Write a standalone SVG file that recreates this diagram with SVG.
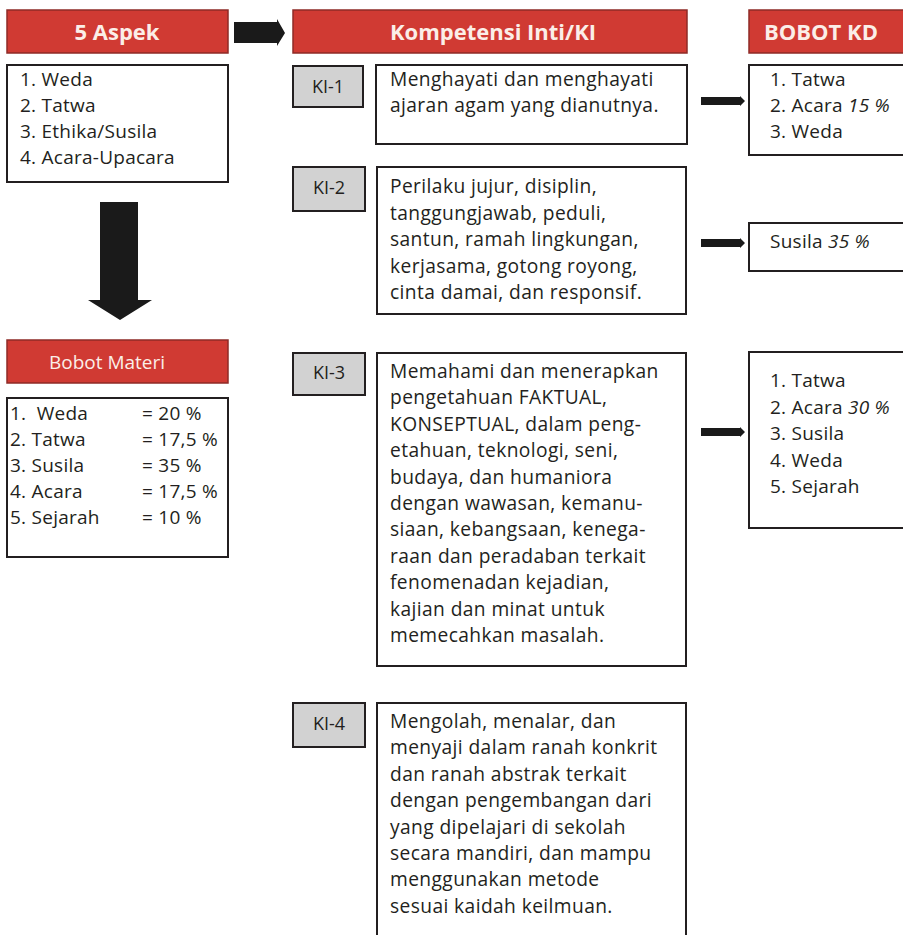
<svg xmlns="http://www.w3.org/2000/svg" width="903" height="935" viewBox="0 0 903 935">
<style>
.hdr{fill:#d03a33;stroke:#8e2b27;stroke-width:1.5}
.box{fill:#fff;stroke:#231f20;stroke-width:2}
.ki{fill:#d2d2d2;stroke:#231f20;stroke-width:2}
.t{font-family:"Open Sans","Noto Sans",sans-serif;font-size:19px;letter-spacing:0.25px;fill:#231f20}
.w{font-size:19.2px;letter-spacing:0.4px}
.h{font-family:"Open Sans","Noto Sans",sans-serif;font-size:22px;font-weight:bold;fill:#fbeee8}
.hm{font-family:"Open Sans","Noto Sans",sans-serif;font-size:19px;fill:#fbeee8}
.k{font-family:"Open Sans","Noto Sans",sans-serif;font-size:18px;fill:#231f20;text-anchor:middle}
.i{font-style:italic}
</style>
<rect width="903" height="935" fill="#fff"/>
<g id="aspek-header"><rect class="hdr" x="7" y="10" width="221" height="43"/><text class="h" x="117" y="39.5" text-anchor="middle">5 Aspek</text></g>
<g id="aspek-list"><rect class="box" x="7" y="65" width="221" height="117"/>
<text class="t" x="20" y="86">1. Weda</text><text class="t" x="20" y="112">2. Tatwa</text><text class="t" x="20" y="138">3. Ethika/Susila</text><text class="t" x="20" y="164">4. Acara-Upacara</text></g>
<g id="ki-header"><rect class="hdr" x="293" y="10" width="394" height="43"/><text class="h" x="493" y="39.5" text-anchor="middle">Kompetensi Inti/KI</text></g>
<g id="kd-header"><rect class="hdr" x="749" y="10" width="162" height="43"/><text class="h" x="764" y="39.5">BOBOT KD</text></g>
<g id="materi-header"><rect class="hdr" x="7" y="340" width="221" height="43"/><text class="hm" x="107" y="369" text-anchor="middle">Bobot Materi</text></g>
<g id="materi-list"><rect class="box" x="7" y="398" width="221" height="159"/>
<text class="t" x="10" y="420">1.&#160; Weda</text><text class="t" x="142" y="420">= 20 %</text>
<text class="t" x="10" y="446">2. Tatwa</text><text class="t" x="142" y="446">= 17,5 %</text>
<text class="t" x="10" y="472">3. Susila</text><text class="t" x="142" y="472">= 35 %</text>
<text class="t" x="10" y="498">4. Acara</text><text class="t" x="142" y="498">= 17,5 %</text>
<text class="t" x="10" y="524">5. Sejarah</text><text class="t" x="142" y="524">= 10 %</text></g>
<g id="ki1"><rect class="ki" x="293" y="66" width="70" height="41"/><text class="k" x="328" y="93">KI-1</text>
<rect class="box" x="376" y="65" width="311" height="79"/>
<text class="t w" x="390" y="86">Menghayati dan menghayati</text><text class="t w" x="390" y="112">ajaran agam yang dianutnya.</text></g>
<g id="ki2"><rect class="ki" x="293" y="167" width="72" height="44"/><text class="k" x="329" y="194">KI-2</text>
<rect class="box" x="377" y="167" width="309" height="147"/>
<text class="t w" x="390" y="193">Perilaku jujur, disiplin,</text><text class="t w" x="390" y="219.5">tanggungjawab, peduli,</text><text class="t w" x="390" y="246">santun, ramah lingkungan,</text><text class="t w" x="390" y="272.5">kerjasama, gotong royong,</text><text class="t w" x="390" y="299">cinta damai, dan responsif.</text></g>
<g id="ki3"><rect class="ki" x="293" y="353" width="72" height="42"/><text class="k" x="329" y="379">KI-3</text>
<rect class="box" x="377" y="353" width="309" height="313"/>
<text class="t w" x="390" y="378">Memahami dan menerapkan</text><text class="t w" x="390" y="404.4">pengetahuan FAKTUAL,</text><text class="t w" x="390" y="430.8">KONSEPTUAL, dalam peng-</text><text class="t w" x="390" y="457.2">etahuan, teknologi, seni,</text><text class="t w" x="390" y="483.6">budaya, dan humaniora</text><text class="t w" x="390" y="510">dengan wawasan, kemanu-</text><text class="t w" x="390" y="536.4">siaan, kebangsaan, kenega-</text><text class="t w" x="390" y="562.8">raan dan peradaban terkait</text><text class="t w" x="390" y="589.2">fenomenadan kejadian,</text><text class="t w" x="390" y="615.6">kajian dan minat untuk</text><text class="t w" x="390" y="642">memecahkan masalah.</text></g>
<g id="ki4"><rect class="ki" x="293" y="703" width="72" height="44"/><text class="k" x="329" y="730">KI-4</text>
<rect class="box" x="377" y="703" width="309" height="245"/>
<text class="t w" x="390" y="728">Mengolah, menalar, dan</text><text class="t w" x="390" y="754.4">menyaji dalam ranah konkrit</text><text class="t w" x="390" y="780.8">dan ranah abstrak terkait</text><text class="t w" x="390" y="807.2">dengan pengembangan dari</text><text class="t w" x="390" y="833.6">yang dipelajari di sekolah</text><text class="t w" x="390" y="860">secara mandiri, dan mampu</text><text class="t w" x="390" y="886.4">menggunakan metode</text><text class="t w" x="390" y="912.8">sesuai kaidah keilmuan.</text></g>
<g id="kd1"><rect class="box" x="749" y="65" width="162" height="90"/>
<text class="t" x="770" y="86">1. Tatwa</text><text class="t" x="770" y="112">2. Acara <tspan class="i">15 %</tspan></text><text class="t" x="770" y="138">3. Weda</text></g>
<g id="kd2"><rect class="box" x="749" y="223" width="162" height="48"/>
<text class="t" x="770" y="248">Susila <tspan class="i">35 %</tspan></text></g>
<g id="kd3"><rect class="box" x="749" y="352" width="162" height="176"/>
<text class="t" x="770" y="387">1. Tatwa</text><text class="t" x="770" y="413.5">2. Acara <tspan class="i">30 %</tspan></text><text class="t" x="770" y="440">3. Susila</text><text class="t" x="770" y="466.5">4. Weda</text><text class="t" x="770" y="493">5. Sejarah</text></g>
<g id="connectors" fill="#1a1a1a">
<polygon points="234,22 277,22 277,19 285,33 277,46 277,43 234,43"/>
<polygon points="100,202 138,202 138,300 152,300 120,320 88,300 100,300"/>
<polygon points="701,97 740,97 740,96 745,101 740,106 740,105 701,105"/>
<polygon points="701,239 740,239 740,238 745,243 740,248 740,247 701,247"/>
<polygon points="701,428 740,428 740,427 745,432 740,437 740,436 701,436"/>
</g>
</svg>
